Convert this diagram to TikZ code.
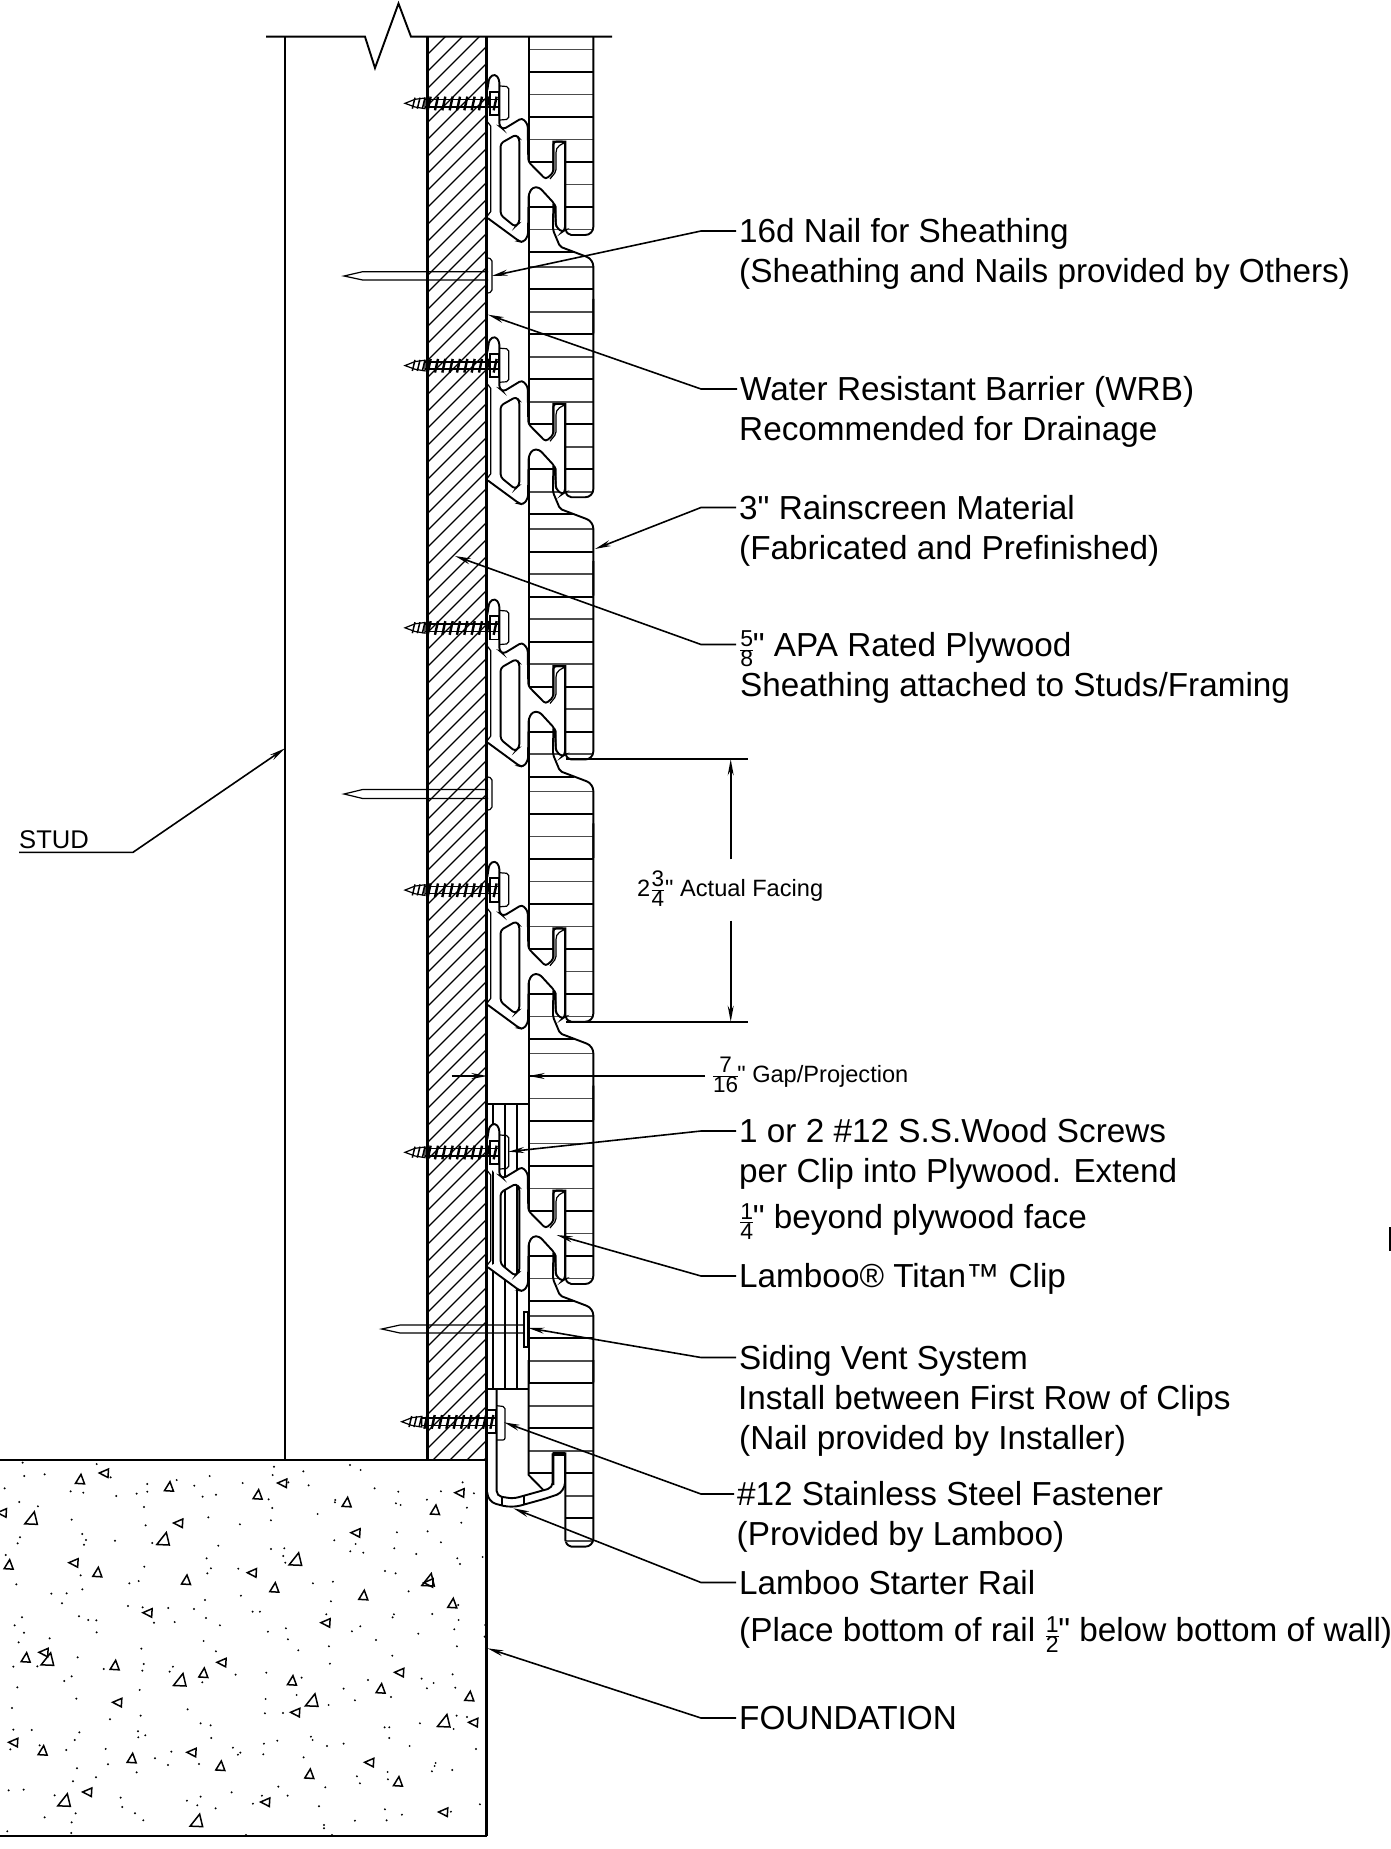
\documentclass[tikz,border=0pt]{standalone}
\usepackage{fontspec}
\setmainfont{Liberation Sans}[Ligatures=TeXOff]
\usetikzlibrary{arrows.meta}

\newcommand{\lamfrac}[3]{$\frac{\mbox{\fontsize{#1}{#1}\selectfont #2}}{\mbox{\fontsize{#1}{#1}\selectfont #3}}$}

% one clip outline, in a 3x grid
\def\clipbody{(322,270) -- (328,232) -- (345,222) -- (358,238) -- (358,378) -- (370,388) -- (426,354) -- (443,372) -- (445,485) -- (497,538) -- (520,518) -- (520,425) -- (555,425) -- (555,690) -- (546,696) -- (528,680) -- (524,612) -- (478,562) -- (458,562) -- (446,582) -- (444,708) -- (430,727) -- (418,724) -- (324,655)}
\def\clippocket{(362,430) -- (408,404) -- (418,416) -- (418,668) -- (405,680) -- (362,645) -- cycle}

\newcommand{\screwat}[2]{
  \begin{scope}[shift={(380+#1,#2)},x=0.3333pt,y=-0.3333pt]
    \draw[thinline] (75,310) -- (105,298) -- (135,294) -- (135,326) -- (105,321) -- cycle;
    \draw[line width=1.5pt] (135,299) -- (358,299) (135,321) -- (358,321);
    \foreach \tx in {105,120,...,135} \draw[line width=1.5pt] (\tx,293) -- (\tx-8,326);
    \foreach \tx in {152,174,...,356} \draw[line width=2.4pt] (\tx,290) -- (\tx-9,331);
    \draw[heavy] (330,275) rectangle (358,345);
  \end{scope}
}

\newcommand{\cliprow}[1]{
  \begin{scope}[shift={(380,#1)},x=0.3333pt,y=-0.3333pt]
    \fill[white,even odd rule,rounded corners=3pt] \clipbody -- (350,640) -- (350,380) -- (322,345) -- cycle \clippocket;
    \draw[heavy,rounded corners=3pt] \clipbody;
    \draw[heavy,rounded corners=3pt] \clippocket;
    \draw[thinline,rounded corners=2pt] (360,258) -- (386,260) -- (386,358) -- (360,360);
    \draw[thinline] (322,365) -- (332,378) -- (332,635) -- (322,648);
    \draw[thinline,rounded corners=2pt] (553,428) -- (533,440) -- (528,452) -- (528,515) -- (510,537);
    \draw[thinline] (524,612) -- (528,620) -- (528,680);
    \draw[heavy] (446,110) -- (446,485) (446,582) -- (446,1000);
    \draw[heavy,rounded corners=8pt] (640,110) -- (640,705) [rounded corners=2pt] -- (568,705) -- (556,692) [sharp corners] -- (556,425) -- (520,425) -- (520,515);
    \draw[heavy,rounded corners=2pt] (520,612) -- (519,690) -- (540,740) [rounded corners=7pt] -- (640,778) -- (640,1000);
  \end{scope}
}

\begin{document}
\begin{tikzpicture}[x=1pt,y=-1pt,>={Stealth[length=16pt,width=6pt]},
  wallline/.style={line width=2.6pt},
  heavy/.style={line width=1.9pt},
  thinline/.style={line width=1.2pt},
  graybar/.style={line width=1.4pt,black!70},
  leader/.style={->,line width=1.6pt},
  labeltext/.style={anchor=west,font=\fontsize{33.3}{40}\selectfont,inner xsep=3pt,inner ysep=0pt,text height=23.8pt,text depth=0pt},
  smalltext/.style={anchor=west,font=\fontsize{23.6}{28}\selectfont,inner xsep=0pt,inner ysep=0pt,text height=16.9pt,text depth=0pt},
  pebble/.style={line width=1.5pt}]

  \useasboundingbox (0,0) rectangle (1391,1849);

  % stud and top break line
  \draw[heavy] (285,36.7) -- (285,1460);
  \draw[heavy] (266,36.7) -- (365,36.7) -- (375,68) -- (398.5,3.5) -- (411,36.7) -- (612,36.7);

  % plywood
  \begin{scope}
    \clip (427.7,36.7) rectangle (486.7,1460);
    \foreach \c in {465,482,...,1960}
      \draw[thinline] (427.7,\c-427.7) -- (486.7,\c-486.7);
  \end{scope}
  \draw[wallline] (427.7,36.7) -- (427.7,1460);

  % siding boards
  \foreach \j/\kone/\ktwo in {0/2/11,1/0/11,2/0/11,3/0/11,4/0/11,5/0/10}
    \foreach \k in {\kone,...,\ktwo} {
      \pgfmathsetmacro{\ybar}{4.67+262.25*\j+22.5*\k}
      \pgfmathsetmacro{\xbar}{\k==11 ? 574 : 593}
      \ifodd\k
        \draw[heavy] (528.7,\ybar) -- (\xbar,\ybar);
      \else
        \draw[graybar] (528.7,\ybar) -- (\xbar,\ybar);
      \fi
    };

  % vent strip
  \draw[heavy] (486.7,1104) -- (528.7,1104);
  \draw[heavy] (486.7,1389.3) -- (528.7,1389.3);
  \foreach \vx in {492.7,505.3,517.3}
    \draw[heavy] (\vx,1104) -- (\vx,1389.3);

  % clips, screws
  \foreach \r in {0,262.25,524.5,786.75,1049} {
    \cliprow{\r}
    \screwat{0}{\r}
  }

  % starter rail and last board
  \begin{scope}[shift={(380,1360)},x=0.3333pt,y=-0.3333pt]
    \fill[white] (446,345) -- (490,390) -- (520,378) -- (520,280) -- (556,280) -- (556,600) -- (446,600) -- cycle;
    \draw[heavy] (446,0) -- (446,345) -- (490,390);
    \draw[heavy,rounded corners=8pt] (640,0) -- (640,560) [rounded corners=2pt] -- (568,560) -- (556,546) [sharp corners] -- (556,280) -- (520,280) -- (520,375);
    \draw[graybar] (556,544) -- (632,544);
    \draw[heavy,rounded corners=9pt] (555,280) -- (555,395) -- (510,412) -- (395,444) -- (322,425) -- (322,405);
    \draw[heavy,rounded corners=5pt] (350,90) -- (350,408) -- (400,416) -- (518,383) -- (518,280);
    \draw[heavy] (367,410) -- (367,438) (432,405) -- (432,434);
    \draw[heavy] (520,280) -- (555,280) (522,285) -- (555,285);
    \draw[thinline,rounded corners=2pt] (350,137) -- (375,140) -- (375,240) -- (350,240);
  \end{scope}
  \screwat{-3.3}{1318.4}

  % nails
  \draw[thinline] (488,271.7) -- (362.7,271.7) -- (344,276) -- (362.7,280) -- (488,280);
  \draw[thinline,rounded corners=2pt] (488,258) -- (492,259) -- (492,292) -- (488,293);
  \draw[thinline] (488,789.5) -- (362.7,789.5) -- (344,794) -- (362.7,798.5) -- (488,798.5);
  \draw[thinline,rounded corners=2pt] (488,777) -- (492,778) -- (492,809) -- (488,810);
  \draw[thinline] (524,1325) -- (400,1325) -- (381.7,1329) -- (400,1333) -- (524,1333);
  \draw[thinline] (524,1312) rectangle (527.5,1347);

  % foundation
  \draw[wallline] (486.7,36.7) -- (486.7,1836);
  \draw[heavy] (0,1460) -- (486.7,1460);
  \draw[heavy] (486.7,1836) -- (0,1836);
  \begin{scope}[shift={(0,1450)},x=0.3333pt,y=-0.3333pt]
    \foreach \dx/\dy in {68/38,290/42,822/50,1050/45,1082/60,73/78,134/73,332/82,629/78,818/75,910/64,14/115,442/102,530/90,583/107,728/99,865/97,926/106,1124/115,1388/97,212/124,250/128,349/138,410/131,442/125,608/140,648/134,806/148,1195/125,1323/124,1422/130,58/156,114/169,432/171,817/174,1006/150,1005/157,1188/160,1202/165,1281/149,1401/173,215/209,625/202,953/192,437/226,720/223,813/211,1384/218,247/252,60/262,258/270,345/272,252/284,53/280,457/279,655/287,1003/271,1191/247,1283/244,1323/277,1067/282,813/297,853/295,850/318,856/338,1051/304,1090/308,1183/295,1249/312,1448/321,1372/325,1380/342,17/315,620/325,633/355,622/370,715/356,433/350,242/376,1155/363,1187/370,49/403,388/400,416/393,247/418,939/400,999/395,1226/424,154/431,200/430,186/460,723/437,615/450,993/454,384/468,428/472,505/474,582/477,758/485,780/485,1375/465,237/499,265/510,289/511,66/502,618/504,979/493,1182/493,1178/502,1297/492,1376/510,462/518,524/516,44/526,660/526,858/535,1081/529,1056/544,1456/525,1363/538,72/548,290/547,804/545,1255/551,1454/560,56/577,149/565,611/573,864/568,1128/570,424/596,987/589,895/601,648/604,1371/589,1177/617,233/622,431/642,427/662,990/641,40/650,112/649,311/657,519/650,509/665,707/674,799/668,905/683,1358/673,215/679,193/693,607/697,1104/690,1265/686,1301/699,1281/715,52/712,419/720,1031/716,1366/713,890/735,1173/741,229/746,797/747,1065/751,986/765,36/774,563/778,422/797,795/790,849/789,1370/797,1401/801,330/808,602/820,632/826,1260/820,1361/837,1154/832,1168/832,40/839,95/840,238/847,414/844,415/862,436/856,634/864,1168/864,933/860,938/870,224/870,832/872,1031/881,792/881,981/888,119/886,31/898,199/900,317/897,514/905,699/893,721/908,714/914,790/913,1229/888,1428/897,465/925,911/922,324/943,504/945,597/942,1307/939,1304/948,1296/964,231/955,1357/960,1163/966,410/967,1071/979,1164/988,288/982,219/994,1080/1000,835/1010,976/1012,26/1021,71/1019,695/1027,164/1036,602/1040,786/1037,863/1037,362/1043,561/1052,759/1061,592/1066,1440/1063,957/1069,367/1071,647/1075,1155/1078,1353/1085,227/1090,405/1090,134/1102,1206/1094,430/1111,215/1117,1065/1112,1160/1111,972/1125,972/1135,22/1144,214/1149,738/1155,996/1155}
      \fill (\dx,\dy) circle (1.1pt);
    \foreach \tx/\ty in {240/88,507/110,773/134,1040/157,1305/180,26/344,292/367,558/390,823/413,1090/436,1357/460,77/623,344/646,610/669,876/692,1142/716,1408/739,128/902,395/925,661/948,928/972,1194/995}
      \draw[pebble,shift={(\tx,\ty)}] (-4.5pt,-4pt) -- (4.5pt,-4.5pt) -- (1pt,5pt) -- cycle;
    \foreach \tx/\ty in {94/205,490/267,887/328,1285/390,143/628,540/690,936/751,1332/813,193/1051,590/1112}
      \draw[pebble,shift={(\tx,\ty)}] (-6.5pt,-5.5pt) -- (6pt,-6pt) -- (3pt,6.5pt) -- cycle;
    \foreach \tx/\ty in {312/69,847/99,1379/128,6/188,535/219,1067/248,221/338,756/368,1286/398,443/488,977/518,131/607,665/637,1198/667,352/757,886/787,1420/817,40/877,575/907,1108/937,262/1026,796/1056,1330/1086}
      \draw[pebble,shift={(\tx,\ty)}] (-4.7pt,0pt) -- (4.5pt,4pt) -- (4pt,-4.5pt) -- cycle;
  \end{scope}

  % the mark on the right edge
  \fill (1389.3,1226.7) rectangle (1391,1251);

  % labels
  \node[labeltext] at (736,231) (nail) {16d Nail for Sheathing};
  \node[labeltext] at (736,271) (nailb) {(Sheathing and Nails provided by Others)};
  \node[labeltext] at (737,389) (wrb) {Water Resistant Barrier (WRB)};
  \node[labeltext] at (736,429) (wrbb) {Recommended for Drainage};
  \node[labeltext] at (736,507.5) (rain) {3" Rainscreen Material};
  \node[labeltext] at (736,547.5) (rainb) {(Fabricated and Prefinished)};
  \node[labeltext] at (736,644.5) (ply) {\lamfrac{23}{5}{8}\kern-1.5pt" APA Rated Plywood};
  \node[labeltext] at (737,684.5) (plyb) {Sheathing attached to Studs/Framing};
  \node[labeltext] at (736,1131) (screw) {1 or 2 \#12 S.S.Wood Screws};
  \node[labeltext] at (736,1171) (screwb) {per Clip into Plywood. Extend};
  \node[labeltext] at (736,1217) (screwc) {\lamfrac{23}{1}{4}\kern-1.5pt" beyond plywood face};
  \node[labeltext] at (736,1276) (clip) {Lamboo® Titan™ Clip};
  \node[labeltext] at (736,1357.5) (vent) {Siding Vent System};
  \node[labeltext] at (735,1397.5) (ventb) {Install between First Row of Clips};
  \node[labeltext] at (736,1437.5) (ventc) {(Nail provided by Installer)};
  \node[labeltext] at (734,1494) (fast) {\#12 Stainless Steel Fastener};
  \node[labeltext] at (733.5,1534) (fastb) {(Provided by Lamboo)};
  \node[labeltext] at (736,1582.5) (rail) {Lamboo Starter Rail};
  \node[labeltext] at (736,1630) (railb) {(Place bottom of rail \lamfrac{23}{1}{2}\kern-1.5pt" below bottom of wall)};
  \node[labeltext] at (736,1718) (found) {FOUNDATION};
  \node[smalltext] at (637,888) (facing) {2\lamfrac{22.5}{3}{4}" Actual Facing};
  \node[smalltext] at (711.7,1074) (gap) {\lamfrac{22.5}{7}{16}\kern-2pt" Gap/Projection};
  \node[anchor=south west,font=\fontsize{25.6}{30}\selectfont,inner xsep=0pt,inner ysep=4pt,text height=18.3pt,text depth=0pt] at (19,852.3) (stud) {STUD};

  \coordinate (nailtip) at (491.7,276);
  \coordinate (wrbtip) at (488,314.7);
  \coordinate (raintip) at (595,549);
  \coordinate (plytip) at (455,556);
  \coordinate (screwtip) at (508.3,1151.7);
  \coordinate (cliptip) at (556.7,1235);
  \coordinate (venttip) at (528.3,1328);
  \coordinate (fasttip) at (504,1422.3);
  \coordinate (railtip) at (513.3,1508.3);
  \coordinate (foundtip) at (487.5,1648.3);
  \coordinate (studtip) at (285,748.3);

  \draw[leader] (nail.west) -- ++(-35,0) -- (nailtip);
  \draw[leader] (wrb.west) -- ++(-36,0) -- (wrbtip);
  \draw[leader] (rain.west) -- ++(-35,0) -- (raintip);
  \draw[leader] (ply.west) -- ++(-35,0) -- (plytip);
  \draw[leader] (screw.west) -- ++(-35,0) -- (screwtip);
  \draw[leader] (clip.west) -- ++(-35,0) -- (cliptip);
  \draw[leader] (vent.west) -- ++(-35,0) -- (venttip);
  \draw[leader] (fast.west) -- ++(-33,0) -- (fasttip);
  \draw[leader] (rail.west) -- ++(-35,0) -- (railtip);
  \draw[leader] (found.west) -- ++(-35,0) -- (foundtip);
  \draw[leader] (stud.south west) -- (133,852.3) -- (studtip);

  % dimensions
  \coordinate (dimtop) at (730.7,759.3);
  \coordinate (dimbot) at (730.7,1021.7);
  \coordinate (dimstart) at (730.7,859.3);
  \coordinate (dimend) at (730.7,920.7);
  \draw[leader] (dimstart) -- (dimtop);
  \draw[leader] (dimend) -- (dimbot);
  \draw[heavy] (566,759.3) -- (748.3,759.3);
  \draw[heavy] (566,1021.7) -- (748.3,1021.7);
  \coordinate (gaptip) at (528.7,1076);
  \coordinate (gapin) at (487.3,1076);
  \coordinate (gapout) at (451.7,1076);
  \draw[leader] (705,1076) -- (gaptip);
  \draw[leader] (gapout) -- (gapin);
\end{tikzpicture}
\end{document}
